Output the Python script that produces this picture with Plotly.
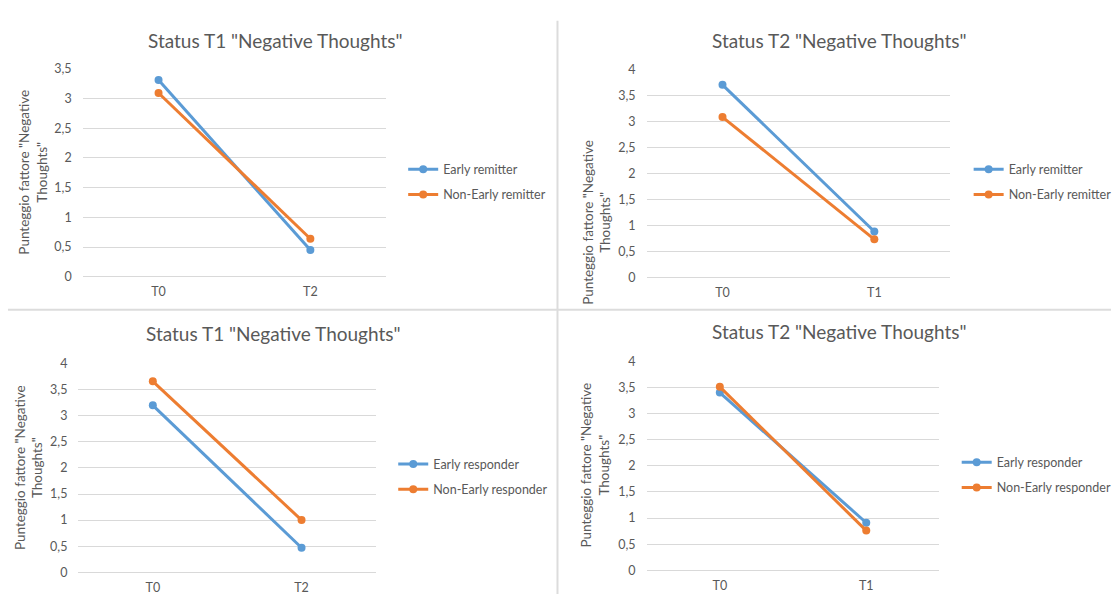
import plotly.graph_objects as go

W, H = 1117, 601

# ---------------- data ----------------
cats_p1 = ["T0", "T2"]
early_remitter_p1 = [3.31, 0.45]
non_early_remitter_p1 = [3.09, 0.64]

cats_p2 = ["T0", "T1"]
early_remitter_p2 = [3.71, 0.89]
non_early_remitter_p2 = [3.09, 0.74]

cats_p3 = ["T0", "T2"]
early_responder_p3 = [3.20, 0.47]
non_early_responder_p3 = [3.66, 1.00]

cats_p4 = ["T0", "T1"]
early_responder_p4 = [3.40, 0.91]
non_early_responder_p4 = [3.51, 0.76]

titles = ['Status T1 "Negative Thoughts"', 'Status T2 "Negative Thoughts"',
          'Status T1 "Negative Thoughts"', 'Status T2 "Negative Thoughts"']
y_title = 'Punteggio fattore "Negative<br>Thoughts"'
y_max = [3.5, 4, 4, 4]

BLUE = "#5B9BD5"
ORANGE = "#ED7D31"
TXT = "#595959"
GRID = "#D9D9D9"
FONT = "Lato"


def px(x):
    return x / W


def py(y):
    return 1 - y / H


# panel geometry in pixels: (x0, x1, ytop, ybottom)
panels = [
    (83, 388, 62.2, 275.7),
    (649.5, 954.5, 63.3, 276.7),
    (78.8, 377.6, 364.7, 578.7),
    (649.5, 943.7, 362.3, 576.7),
]
title_pos = [(277, 33), (843, 33), (275, 334), (843, 331.7)]
ylab_pos = [(33, 168), (599, 220), (29, 471), (598, 469)]
legend_pos = [(405, 178.5), (973, 178.5), (395, 480.8), (961, 479)]

series = [
    (cats_p1, early_remitter_p1, non_early_remitter_p1, "Early remitter", "Non-Early remitter"),
    (cats_p2, early_remitter_p2, non_early_remitter_p2, "Early remitter", "Non-Early remitter"),
    (cats_p3, early_responder_p3, non_early_responder_p3, "Early responder", "Non-Early responder"),
    (cats_p4, early_responder_p4, non_early_responder_p4, "Early responder", "Non-Early responder"),
]

fig = go.Figure()
layout = {}
annotations = []
for i, (cats, a, b, na, nb) in enumerate(series):
    n = i + 1
    sfx = "" if n == 1 else str(n)
    lg = "legend" + sfx
    for vals, name, col in ((a, na, BLUE), (b, nb, ORANGE)):
        fig.add_trace(go.Scatter(
            x=cats, y=vals, name=name, mode="lines+markers",
            line=dict(color=col, width=3), marker=dict(color=col, size=8),
            xaxis="x" + sfx, yaxis="y" + sfx, legend=lg, legendgroup=f"{n}{name}",
            showlegend=True,
        ))
    x0, x1, yt, yb = panels[i]
    layout["xaxis" + sfx] = dict(
        domain=[px(x0), px(x1)], anchor="y" + sfx, type="category",
        range=[-0.5, 1.5], showgrid=False, zeroline=False, showline=False,
        tickfont=dict(family=FONT, size=12.5, color=TXT), ticks="",
        ticklabelstandoff=6,
    )
    layout["yaxis" + sfx] = dict(
        domain=[py(yb), py(yt)], anchor="x" + sfx, range=[0, y_max[i]],
        dtick=0.5, showgrid=True, gridcolor=GRID, gridwidth=1,
        zeroline=True, zerolinecolor=GRID, zerolinewidth=1, showline=False,
        tickfont=dict(family=FONT, size=12.5, color=TXT), ticks="",
        ticklabelstandoff=10,
    )
    lx, ly = legend_pos[i]
    layout[lg] = dict(
        x=px(lx), y=py(ly), xanchor="left", yanchor="middle",
        font=dict(family=FONT, size=12.5, color=TXT), bgcolor="rgba(0,0,0,0)",
        tracegroupgap=6, traceorder="grouped", itemwidth=30,
    )
    tx, ty = title_pos[i]
    annotations.append(dict(
        text=titles[i], x=px(tx), y=py(ty), xref="paper", yref="paper",
        xanchor="center", yanchor="middle", showarrow=False,
        font=dict(family=FONT, size=19, color=TXT),
    ))
    ax, ay = ylab_pos[i]
    annotations.append(dict(
        text=y_title, x=px(ax), y=py(ay), xref="paper", yref="paper",
        xanchor="center", yanchor="middle", showarrow=False, textangle=-90,
        font=dict(family=FONT, size=13.5, color=TXT),
    ))

shapes = [
    dict(type="line", xref="paper", yref="paper", x0=px(560), x1=px(560),
         y0=py(13), y1=py(601), line=dict(color="#DCDCDC", width=2)),
    dict(type="line", xref="paper", yref="paper", x0=px(8), x1=px(1116),
         y0=py(309.5), y1=py(309.5), line=dict(color="#DCDCDC", width=2)),
]

fig.update_layout(
    width=W, height=H, margin=dict(l=0, r=0, t=0, b=0),
    paper_bgcolor="white", plot_bgcolor="white",
    separators=",.", annotations=annotations, shapes=shapes,
    **layout,
)

fig.write_html("out.html")
